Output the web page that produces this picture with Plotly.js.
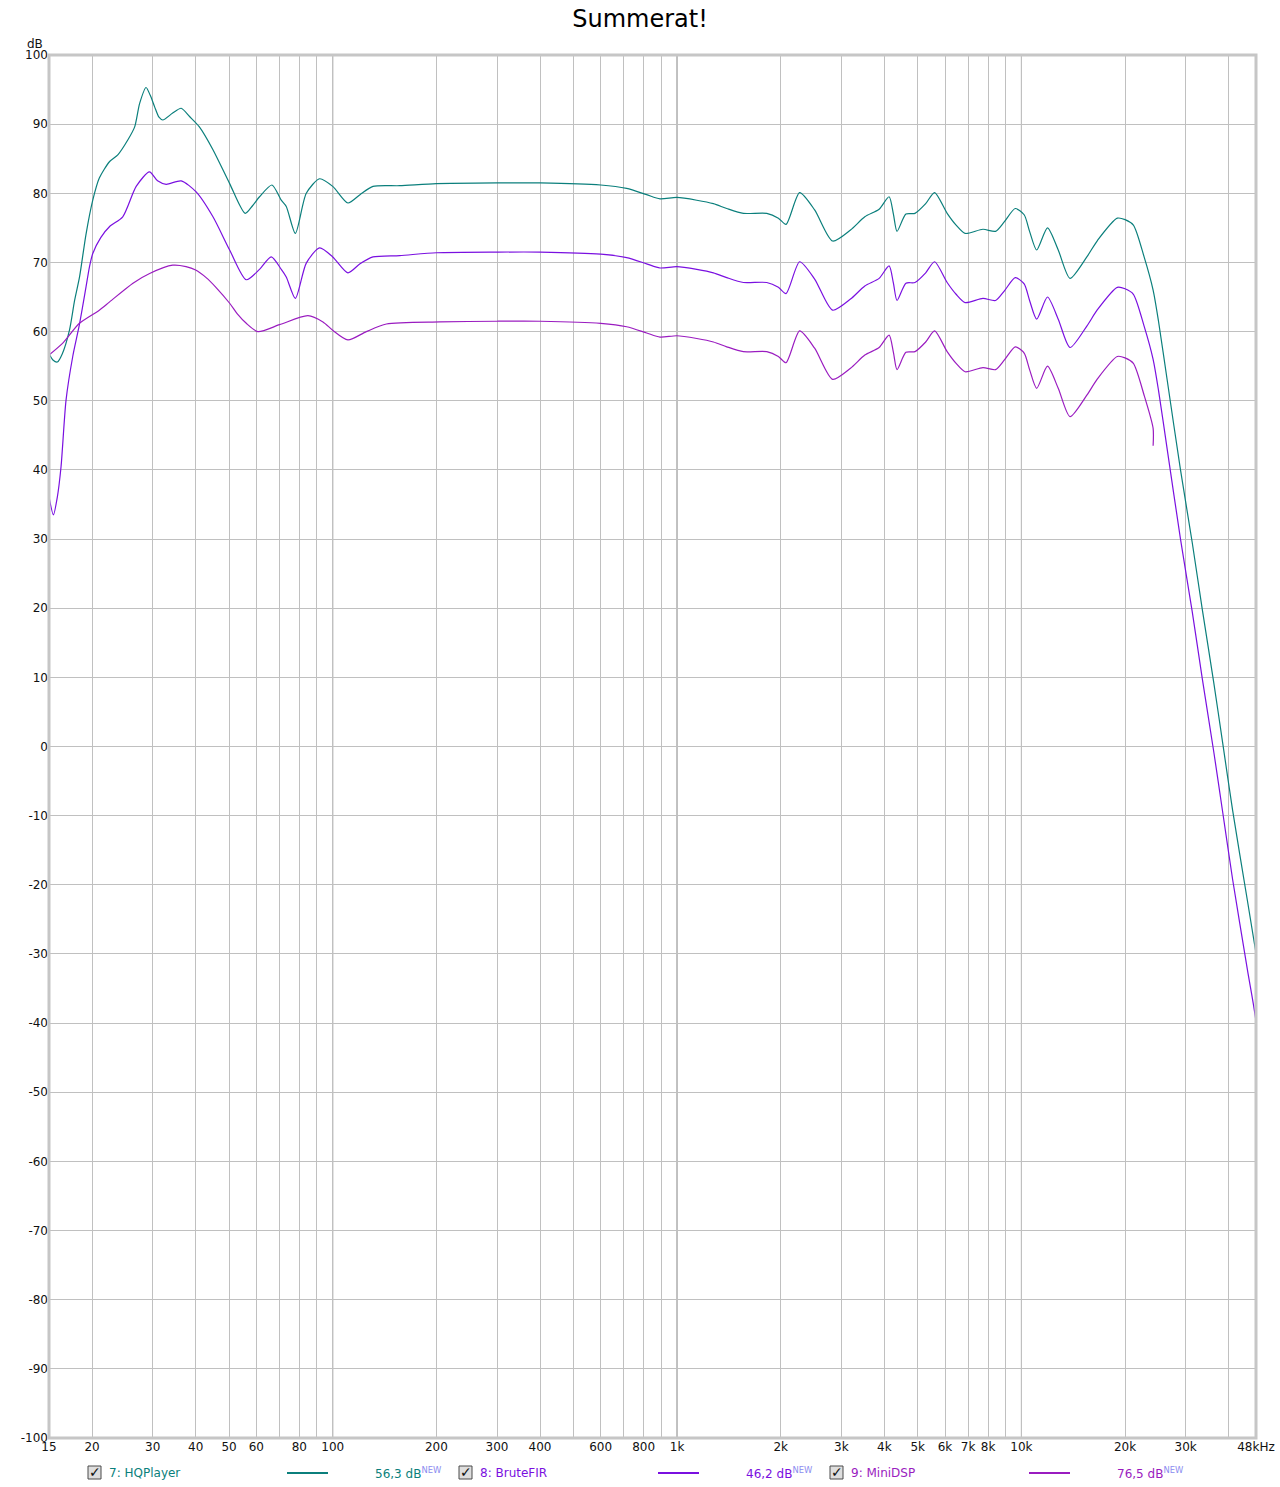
<!DOCTYPE html>
<html><head><meta charset="utf-8">
<script src="https://cdn.plot.ly/plotly-3.0.1.min.js"></script>
<style>html,body{margin:0;padding:0;background:#fff}#chart{width:1280px;height:1487px}</style>
</head><body><div id="chart"></div>
<script>
// ---------- data ----------
const freqHQ = [15, 15.4, 15.86, 16.4, 17.2, 17.8, 18.4, 19.2, 20.1, 21.0, 22.5, 23.8, 25.4, 26.6, 27.5, 28.7, 29.5, 30.4, 31.3, 32.1, 34.3, 36.3, 38.4, 41.0, 44.9, 50.2, 55.7, 58.5, 61.3, 66.6, 70.9, 73.3, 77.9, 83.8, 91.6, 100, 110.7, 120, 130.9, 156.5, 200, 300, 400, 600, 714, 816, 892, 998, 1141, 1275, 1394, 1558, 1822, 1969, 2072, 2270, 2509, 2829, 3189, 3510, 3862, 4128, 4249, 4353, 4619, 4907, 5272, 5595, 6086, 6462, 6864, 7731, 8412, 8926, 9596, 10186, 10561, 11074, 11905, 12791, 13843, 15488, 16641, 18982, 20000, 21143, 22715, 24125, 25011, 26503, 28973, 31334, 33497, 36226, 38392, 41044, 45290, 48000];
const dbHQ = [56.8, 55.9, 55.6, 56.8, 60.2, 64.5, 67.9, 74.0, 79.0, 82.2, 84.6, 85.6, 87.7, 89.6, 93.0, 95.3, 94.2, 92.5, 91.0, 90.6, 91.6, 92.3, 91.1, 89.6, 86.3, 81.4, 77.1, 78.2, 79.5, 81.2, 79.0, 78.1, 74.2, 80.0, 82.1, 81.0, 78.6, 79.8, 81.0, 81.1, 81.4, 81.5, 81.5, 81.2, 80.7, 79.8, 79.2, 79.4, 79.0, 78.5, 77.8, 77.1, 77.1, 76.4, 75.5, 80.1, 77.6, 73.1, 74.7, 76.6, 77.7, 79.5, 77.0, 74.5, 77.0, 77.1, 78.5, 80.1, 77.1, 75.4, 74.2, 74.8, 74.5, 75.9, 77.8, 76.9, 74.5, 71.8, 75.0, 71.8, 67.7, 70.8, 73.2, 76.4, 76.2, 75.4, 70.8, 66.0, 61.5, 53.0, 40.0, 29.5, 19.9, 9.1, 0.6, -9.2, -22.2, -29.9];

const freqBF = [15, 15.45, 15.85, 16.26, 16.81, 17.58, 18.38, 19.22, 19.65, 20.1, 21.2, 22.5, 24.56, 26.87, 29.37, 31.0, 32.84, 36.3, 40.13, 44.9, 50.2, 56.1, 61.3, 66.3, 70.9, 73.3, 77.9, 83.8, 91.6, 100, 110.7, 120, 130.9, 156.5, 200, 300, 400, 600, 714, 816, 892, 998, 1141, 1275, 1394, 1558, 1822, 1969, 2072, 2270, 2509, 2829, 3189, 3510, 3862, 4128, 4249, 4353, 4619, 4907, 5272, 5595, 6086, 6462, 6864, 7731, 8412, 8926, 9596, 10186, 10561, 11074, 11905, 12791, 13843, 15488, 16641, 18982, 20000, 21143, 22715, 24125, 25011, 26503, 28973, 31334, 33497, 36226, 38392, 41044, 45290, 48000, 48000];
const dbBF = [36.1, 33.5, 36.0, 40.5, 50.1, 56.4, 61.0, 66.5, 69.3, 71.3, 73.6, 75.2, 76.6, 81.0, 83.1, 81.8, 81.3, 81.8, 80.2, 76.6, 71.8, 67.5, 69.0, 70.8, 69.0, 67.9, 64.8, 69.9, 72.1, 70.8, 68.5, 69.8, 70.8, 71.0, 71.4, 71.5, 71.5, 71.2, 70.7, 69.8, 69.2, 69.4, 69.0, 68.5, 67.8, 67.1, 67.1, 66.4, 65.5, 70.1, 67.6, 63.1, 64.7, 66.6, 67.7, 69.5, 67.0, 64.5, 67.0, 67.1, 68.5, 70.1, 67.1, 65.4, 64.2, 64.8, 64.5, 65.9, 67.8, 66.9, 64.5, 61.8, 65.0, 61.8, 57.7, 60.8, 63.2, 66.4, 66.2, 65.4, 60.8, 56.0, 51.5, 43.0, 30.0, 19.5, 9.9, -0.9, -9.4, -19.2, -32.2, -39.9, -44.5];

const freqMD = [15, 16.5, 18.38, 21.0, 22.5, 26.3, 29.4, 34.3, 37.5, 40.0, 42.9, 46.0, 50.2, 53.0, 56.1, 60.6, 70.1, 84.7, 93.7, 100, 110.7, 125.2, 143.2, 204.6, 300, 400, 600, 714, 816, 892, 998, 1141, 1275, 1394, 1558, 1822, 1969, 2072, 2270, 2509, 2829, 3189, 3510, 3862, 4128, 4249, 4353, 4619, 4907, 5272, 5595, 6086, 6462, 6864, 7731, 8412, 8926, 9596, 10186, 10561, 11074, 11905, 12791, 13843, 15488, 16641, 18982, 20000, 21143, 22715, 24125, 24125];
const dbMD = [56.6, 58.4, 61.2, 63.1, 64.3, 67.0, 68.4, 69.6, 69.4, 68.9, 67.8, 66.3, 64.1, 62.5, 61.2, 60.0, 61.0, 62.3, 61.4, 60.2, 58.8, 60.0, 61.1, 61.4, 61.5, 61.5, 61.2, 60.7, 59.8, 59.2, 59.4, 59.0, 58.5, 57.8, 57.1, 57.1, 56.4, 55.5, 60.1, 57.6, 53.1, 54.7, 56.6, 57.7, 59.5, 57.0, 54.5, 57.0, 57.1, 58.5, 60.1, 57.1, 55.4, 54.2, 54.8, 54.5, 55.9, 57.8, 56.9, 54.5, 51.8, 55.0, 51.8, 47.7, 50.8, 53.2, 56.4, 56.2, 55.4, 50.8, 46.0, 43.5];

const seriesNames = ["7: HQPlayer", "8: BruteFIR", "9: MiniDSP"];
const seriesValues = ["56,3 dB", "46,2 dB", "76,5 dB"];
const seriesColors = ["#0b7f7c", "#7a10e0", "#9a1cc0"];

const xTickVals = [15, 20, 30, 40, 50, 60, 70, 80, 90, 100, 200, 300, 400, 500, 600, 700, 800, 900, 1000, 2000, 3000, 4000, 5000, 6000, 7000, 8000, 9000, 10000, 20000, 30000, 40000, 48000];
const xTickText = ["15", "20", "30", "40", "50", "60", "", "80", "", "100", "200", "300", "400", "", "600", "", "800", "", "1k", "2k", "3k", "4k", "5k", "6k", "7k", "8k", "", "10k", "20k", "30k", "", "48kHz"];
const decadeLines = [100, 1000, 10000];
const yTickVals = [-100, -90, -80, -70, -60, -50, -40, -30, -20, -10, 0, 10, 20, 30, 40, 50, 60, 70, 80, 90, 100];
const yTickText = yTickVals.map(v => String(v));

// ---------- layout helpers ----------
const L = 49, R = 1256, T = 55, B = 1438;
const px = p => (p - L) / (R - L);
const py = p => (B - p) / (B - T);
const FONT = "DejaVu Sans, Verdana, sans-serif";

const xs = [freqHQ, freqBF, freqMD];
const ys = [dbHQ, dbBF, dbMD];
const traces = xs.map((x, i) => ({
  type: "scatter", mode: "lines", x: x, y: ys[i], name: seriesNames[i],
  line: {color: seriesColors[i], width: 1.2, shape: "spline", smoothing: 0.7},
  hoverinfo: "skip", showlegend: false
}));

const shapes = [];
decadeLines.forEach(f => shapes.push({
  type: "line", xref: "x", yref: "paper", x0: f, x1: f, y0: 0, y1: 1,
  line: {color: "#787878", width: 1}, layer: "below"
}));
shapes.push({type: "rect", xref: "paper", yref: "paper", x0: 0, x1: 1, y0: 0, y1: 1,
  line: {color: "#c6c6c6", width: 3}, layer: "above"});

const annotations = [{
  xref: "paper", yref: "paper", x: px(45), y: py(44), xanchor: "right", yanchor: "middle",
  text: "dB", showarrow: false, font: {family: FONT, size: 12, color: "#111"}
}];

const legY = 1472.5, step = 371;
seriesNames.forEach((name, i) => {
  const o = step * i;
  shapes.push({type: "rect", xref: "paper", yref: "paper",
    x0: px(88 + o), x1: px(101 + o), y0: py(legY + 6.5), y1: py(legY - 6.5),
    line: {color: "#4a4a4a", width: 1}, fillcolor: "#dedede", layer: "above"});
  annotations.push({xref: "paper", yref: "paper", x: px(95 + o), y: py(legY - 0.5), xanchor: "center", yanchor: "middle",
    text: "<b>✓</b>", showarrow: false, font: {family: FONT, size: 14, color: "#111"}});
  annotations.push({xref: "paper", yref: "paper", x: px(107 + o), y: py(legY), xanchor: "left", yanchor: "middle",
    text: name, showarrow: false, font: {family: FONT, size: 12, color: seriesColors[i]}});
  shapes.push({type: "line", xref: "paper", yref: "paper",
    x0: px(287 + o), x1: px(328 + o), y0: py(legY + 0.5), y1: py(legY + 0.5),
    line: {color: seriesColors[i], width: 2}, layer: "above"});
  annotations.push({xref: "paper", yref: "paper", x: px(373 + o), y: py(legY), xanchor: "left", yanchor: "middle",
    text: seriesValues[i] + "<sup><span style='color:#8c8cf0'>NEW</span></sup>", showarrow: false,
    font: {family: FONT, size: 12, color: seriesColors[i]}});
});

const layout = {
  width: 1280, height: 1487,
  margin: {l: L, r: 1280 - R, t: T, b: 1487 - B, pad: 0},
  paper_bgcolor: "#ffffff", plot_bgcolor: "#ffffff",
  font: {family: FONT, size: 12, color: "#111"},
  title: {text: "Summerat!", x: 0.5, xanchor: "center", xref: "container",
    y: 1 - 19 / 1487, yanchor: "middle", yref: "container",
    font: {family: FONT, size: 24, color: "#000"}},
  xaxis: {type: "log", range: [Math.log10(15), Math.log10(48000)],
    tickmode: "array", tickvals: xTickVals, ticktext: xTickText, tickangle: 0,
    showgrid: true, gridcolor: "#c0c0c0", gridwidth: 1, zeroline: false, showline: false,
    ticks: "", ticklen: 0, tickfont: {family: FONT, size: 12, color: "#111"}, fixedrange: true},
  yaxis: {range: [-100, 100], tickmode: "array", tickvals: yTickVals, ticktext: yTickText,
    showgrid: true, gridcolor: "#c0c0c0", gridwidth: 1, zeroline: false, showline: false,
    ticks: "", tickfont: {family: FONT, size: 12, color: "#111"}, fixedrange: true},
  shapes: shapes, annotations: annotations, showlegend: false
};

Plotly.newPlot("chart", traces, layout, {displayModeBar: false, staticPlot: true});
</script></body></html>
